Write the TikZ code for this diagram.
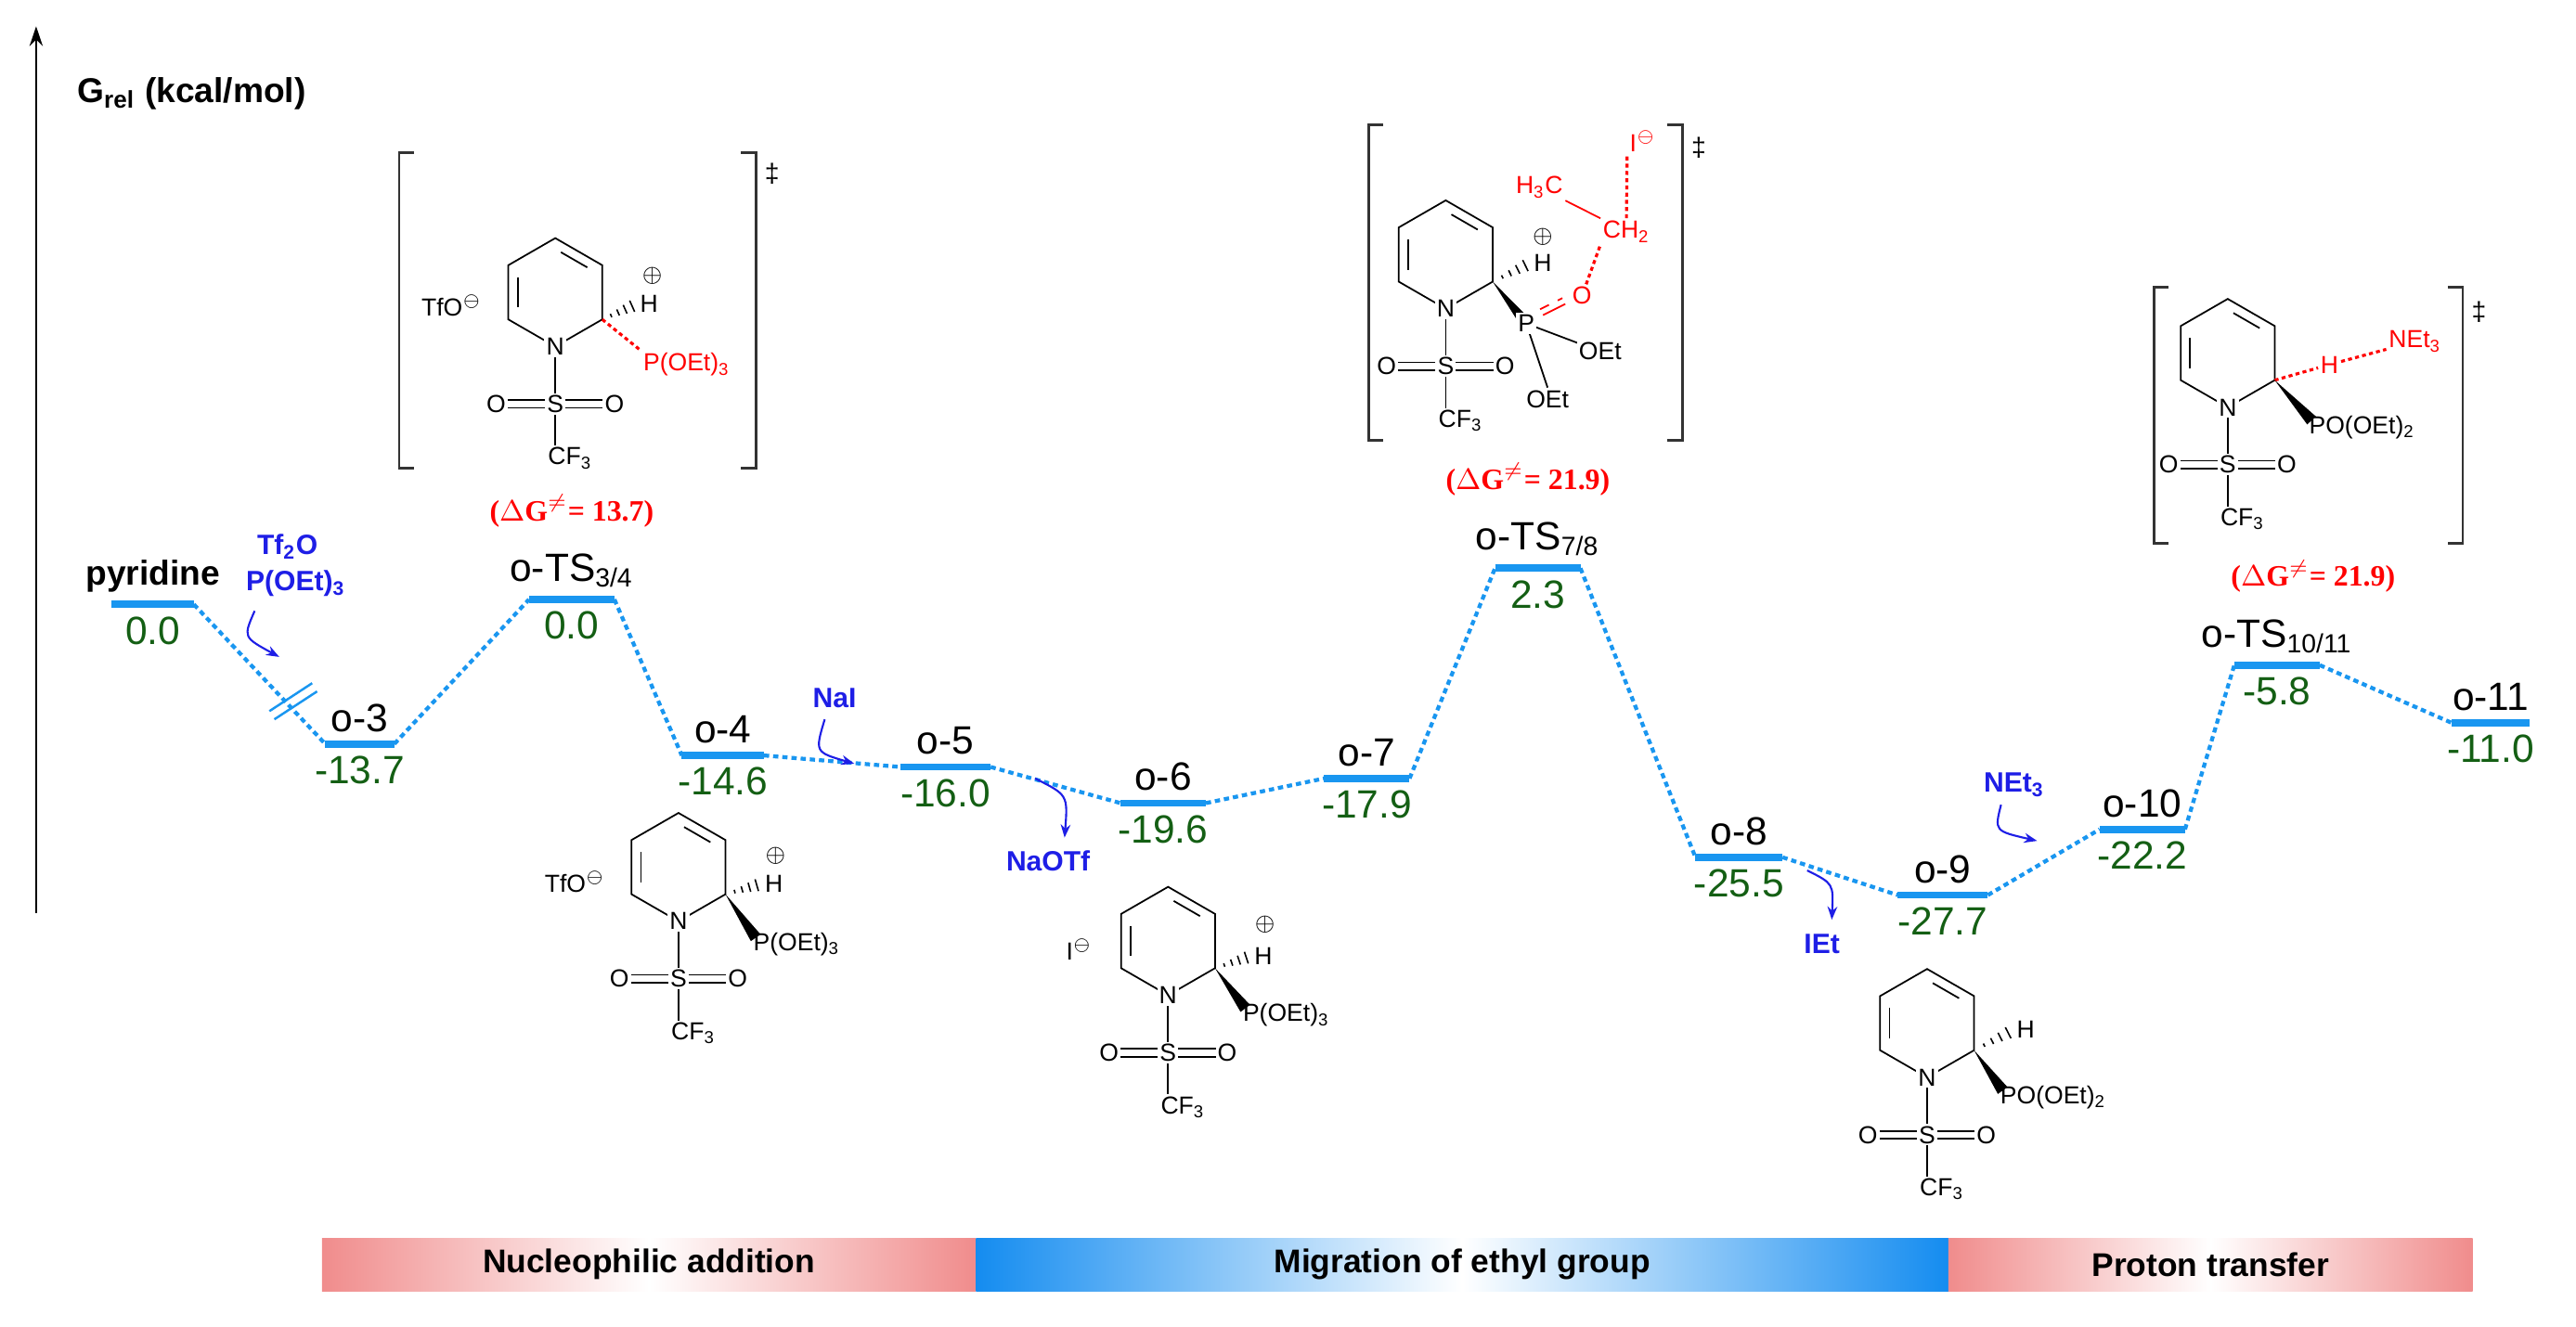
\documentclass[tikz,border=0pt]{standalone}
\usepackage{fontspec}
\setmainfont{Liberation Sans}
\newfontfamily\serifb{Liberation Serif}
\usetikzlibrary{calc,arrows.meta}
\definecolor{lvl}{RGB}{25,150,240}
\definecolor{val}{RGB}{20,95,20}
\definecolor{rgt}{RGB}{30,30,230}
\definecolor{pinkb}{RGB}{240,140,140}
\definecolor{blueb}{RGB}{20,140,240}
\tikzset{
  bar/.style={lvl,line width=2.2pt},
  conn/.style={lvl,line width=1.2pt,dash pattern=on 1.6pt off 1.2pt},
  lab/.style={font=\fontsize{12}{12}\selectfont,anchor=south,inner sep=1pt},
  vallab/.style={val,font=\fontsize{12}{12}\selectfont,anchor=north,inner sep=1pt},
  atom/.style={font=\fontsize{7.5}{8}\selectfont,inner sep=0.6pt,fill=white},
  ratom/.style={atom,text=red},
  bond/.style={line width=0.5pt},
  rdash/.style={red,line width=0.9pt,dash pattern=on 1.2pt off 1pt},
  rgtlab/.style={rgt,font=\bfseries\fontsize{8.5}{9}\selectfont,inner sep=0.5pt},
  rgtarr/.style={rgt,line width=0.6pt,-{Stealth[length=4pt,width=3pt]}},
  dg/.style={red,font=\serifb\bfseries\fontsize{9}{9}\selectfont},
  brk/.style={line width=0.8pt,black!80},
  phase/.style={minimum height=16pt,inner sep=0pt,font=\bfseries\fontsize{10}{10}\selectfont}
}
% pyridine ring with N-SO2CF3; #1 prefix, (#2,#3) position of N
\newcommand\pyrmol[3]{%
  \coordinate (#1N) at (#2,#3);
  \coordinate (#1LL) at ({#2-28.6},{#3-16.5});
  \coordinate (#1UL) at ({#2-28.6},{#3-49.5});
  \coordinate (#1T) at (#2,{#3-66});
  \coordinate (#1UR) at ({#2+28.6},{#3-49.5});
  \coordinate (#1C2) at ({#2+28.6},{#3-16.5});
  \coordinate (#1cen) at (#2,{#3-33});
  \coordinate (#1S) at (#2,{#3+35});
  \coordinate (#1Oa) at ({#2-36},{#3+35});
  \coordinate (#1Ob) at ({#2+36},{#3+35});
  \coordinate (#1CF) at (#2,{#3+68});
  \draw[bond] (#1N) -- (#1LL) -- (#1UL) -- (#1T) -- (#1UR) -- (#1C2) -- (#1N);
  \draw[bond] ($($(#1T)!0.15!(#1UR)$)!0.2!(#1cen)$) -- ($($(#1T)!0.85!(#1UR)$)!0.2!(#1cen)$);
  \draw[bond] ($($(#1UL)!0.15!(#1LL)$)!0.2!(#1cen)$) -- ($($(#1UL)!0.85!(#1LL)$)!0.2!(#1cen)$);
  \draw[bond] (#1N) -- (#1S) -- (#1CF);
  \draw[bond] ([yshift=1.2pt]#1Oa) -- ([yshift=1.2pt]#1Ob);
  \draw[bond] ([yshift=-1.2pt]#1Oa) -- ([yshift=-1.2pt]#1Ob);
  \node[atom] at (#1N) {N};
  \node[atom] at (#1S) {S};
  \node[atom] at (#1Oa) {O};
  \node[atom] at (#1Ob) {O};
  \node[atom,anchor=north west,xshift=-3pt,yshift=4pt] at (#1CF) {CF\textsubscript{3}};
}
\newcommand\hashb[2]{%
  \foreach \t in {0.25,0.45,0.65,0.85}
    \draw[line width=0.45pt] ($(#1)!\t!(#2)!{\t*2.2pt}!90:(#2)$) -- ($(#1)!\t!(#2)!{\t*2.2pt}!-90:(#2)$);
}
\newcommand\wedgeb[2]{%
  \fill (#1) -- ($(#2)!1.8pt!90:(#1)$) -- ($(#2)!1.8pt!-90:(#1)$) -- cycle;
}
\begin{document}
\begin{tikzpicture}[x=0.5pt,y=-0.5pt]
\useasboundingbox (0,0) rectangle (1568,808);
% axis
\draw[line width=0.7pt,-{Stealth[length=6pt,width=4pt]}] (22,556) -- (22,16);
\node[anchor=west,font=\bfseries\fontsize{10.5}{11}\selectfont] (ax) at (40,57) {G\textsubscript{rel} (kcal/mol)};

% levels
\foreach \n/\xa/\xb/\y/\lab/\val in {
  py/68/118/368/{\fontsize{10.5}{11}\selectfont\textbf{pyridine}}/0.0,
  o3/198/240/453/o-3/-13.7,
  ts34/322/374/365/{o-TS\textsubscript{3/4}}/0.0,
  o4/415/465/460/o-4/-14.6,
  o5/548/603/467/o-5/-16.0,
  o6/682/734/489/o-6/-19.6,
  o7/806/858/474/o-7/-17.9,
  ts78/910/962/346/{o-TS\textsubscript{7/8}}/2.3,
  o8/1032/1085/522/o-8/-25.5,
  o9/1155/1210/545/o-9/-27.7,
  o10/1278/1330/505/o-10/-22.2,
  ts1011/1360/1412/405/{o-TS\textsubscript{10/11}}/-5.8,
  o11/1492/1540/440/o-11/-11.0}{
  \coordinate (\n-L) at (\xa,\y);
  \coordinate (\n-R) at (\xb,\y);
  \draw[bar] (\n-L) -- (\n-R);
  \node[lab] (\n-lab) at ({(\xa+\xb)/2},{\y-5}) {\lab};
  \node[vallab] (\n-val) at ({(\xa+\xb)/2},{\y+5}) {\val};
}
\draw[conn] (py-R) -- (o3-L);
\draw[conn] (o3-R) -- (ts34-L);
\draw[conn] (ts34-R) -- (o4-L);
\draw[conn] (o4-R) -- (o5-L);
\draw[conn] (o5-R) -- (o6-L);
\draw[conn] (o6-R) -- (o7-L);
\draw[conn] (o7-R) -- (ts78-L);
\draw[conn] (ts78-R) -- (o8-L);
\draw[conn] (o8-R) -- (o9-L);
\draw[conn] (o9-R) -- (o10-L);
\draw[conn] (o10-R) -- (ts1011-L);
\draw[conn] (ts1011-R) -- (o11-L);
% break mark
\coordinate (bk1a) at (164,433); \coordinate (bk1b) at (190,416);
\coordinate (bk2a) at (167,438); \coordinate (bk2b) at (193,421);
\draw[lvl,line width=0.7pt] (bk1a) -- (bk1b);
\draw[lvl,line width=0.7pt] (bk2a) -- (bk2b);

% reagents
\node[rgtlab] (tf2o) at (175,333) {Tf\textsubscript{2}O};
\node[rgtlab] (poet) at (180,355) {P(OEt)\textsubscript{3}};
\coordinate (a1s) at (155,372); \coordinate (a1e) at (170,400);
\draw[rgtarr] (a1s) .. controls (148,388) .. (a1e);
\node[rgtlab] (nai) at (508,425) {NaI};
\coordinate (a2s) at (502,438); \coordinate (a2e) at (520,465);
\draw[rgtarr] (a2s) .. controls (496,458) .. (a2e);
\node[rgtlab] (naotf) at (638,524) {NaOTf};
\coordinate (a3s) at (630,474); \coordinate (a3e) at (648,510);
\draw[rgtarr] (a3s) .. controls (650,484) .. (a3e);
\node[rgtlab] (iet) at (1109,575) {IEt};
\coordinate (a4s) at (1100,530); \coordinate (a4e) at (1115,560);
\draw[rgtarr] (a4s) .. controls (1116,538) .. (a4e);
\node[rgtlab] (net) at (1226,478) {NEt\textsubscript{3}};
\coordinate (a5s) at (1218,490); \coordinate (a5e) at (1240,512);
\draw[rgtarr] (a5s) .. controls (1214,506) .. (a5e);

% delta G
\node[dg] (dg1) at (348,311) {($\Delta$G$^{\neq}$= 13.7)};
\node[dg] (dg2) at (930,292) {($\Delta$G$^{\neq}$= 21.9)};
\node[dg] (dg3) at (1408,351) {($\Delta$G$^{\neq}$= 21.9)};

% ---- TS3/4
\pyrmol{a}{338}{211}
\draw[brk] (252,93) -- (243,93) -- (243,285) -- (252,285);
\draw[brk] (451,93) -- (460,93) -- (460,285) -- (451,285);
\node[font=\fontsize{8}{8}\selectfont] at (470,106) {‡};
\node[atom] (aTfO) at (275,186) {TfO$^{\ominus}$};
\node[atom,anchor=west] (aH) at (388,185) {H};
\node[font=\fontsize{7}{7}\selectfont,inner sep=0pt] at (397,168) {$\oplus$};
\hashb{aC2}{aH.west}
\node[ratom,anchor=west] (aP) at (390,222) {P(OEt)\textsubscript{3}};
\draw[rdash] (aC2) -- (aP.north west);

% ---- TS7/8
\pyrmol{b}{880}{188}
\draw[brk] (842,76) -- (833,76) -- (833,268) -- (842,268);
\draw[brk] (1015,76) -- (1024,76) -- (1024,268) -- (1015,268);
\node[font=\fontsize{8}{8}\selectfont] at (1034,90) {‡};
\node[atom,anchor=west] (bH) at (932,160) {H};
\node[font=\fontsize{7}{7}\selectfont,inner sep=0pt] at (939,144) {$\oplus$};
\hashb{bC2}{bH.west}
\coordinate (bPc) at (929,197);
\wedgeb{bC2}{bPc}
\coordinate (bOc) at (963,180);
\coordinate (bOE1c) at (974,214);
\coordinate (bOE2c) at (942,236);
\draw[bond] (bPc) -- (bOE1c);
\draw[bond] (bPc) -- (bOE2c);
\draw[red,line width=0.5pt] ($(bPc)!0.3!(bOc)$) -- ($(bOc)!0.3!(bPc)$);
\draw[red,line width=0.5pt,dashed] ($($(bPc)!0.3!(bOc)$)!2pt!90:(bOc)$) -- ($($(bOc)!0.3!(bPc)$)!2pt!-90:(bPc)$);
\node[atom] (bP) at (bPc) {P};
\node[ratom] (bO) at (bOc) {O};
\node[atom] (bOE1) at (bOE1c) {OEt};
\node[atom,anchor=north] (bOE2) at (bOE2c) {OEt};
\node[ratom] (bCH3) at (937,114) {H\textsubscript{3}C};
\node[ratom] (bCH2) at (990,141) {CH\textsubscript{2}};
\node[ratom] (bI) at (1000,86) {I$^{\ominus}$};
\draw[red,line width=0.5pt] (bCH3.south east) -- (bCH2.north west);
\draw[rdash] (bO) -- (bCH2.south west);
\draw[rdash] (bCH2.north) -- (bI.south west);

% ---- TS10/11
\pyrmol{c}{1356}{248}
\draw[brk] (1320,175) -- (1311,175) -- (1311,331) -- (1320,331);
\draw[brk] (1490,175) -- (1499,175) -- (1499,331) -- (1490,331);
\node[font=\fontsize{8}{8}\selectfont] at (1509,190) {‡};
\node[ratom] (cH) at (1418,222) {H};
\node[ratom] (cNEt) at (1470,208) {NEt\textsubscript{3}};
\draw[rdash] (cC2) -- (cH);
\draw[rdash] (cH) -- (cNEt);
\coordinate (cPc) at (1407,256);
\wedgeb{cC2}{cPc}
\node[atom,anchor=west,fill=none] (cP) at (1404,260) {PO(OEt)\textsubscript{2}};

% ---- o-4
\pyrmol{d}{413}{561}
\node[atom] (dTfO) at (350,537) {TfO$^{\ominus}$};
\node[atom,anchor=west] (dH) at (464,538) {H};
\node[font=\fontsize{7}{7}\selectfont,inner sep=0pt] at (472,521) {$\oplus$};
\hashb{dC2}{dH.west}
\coordinate (dPc) at (460,571);
\wedgeb{dC2}{dPc}
\node[atom,anchor=west,fill=none] (dP) at (457,575) {P(OEt)\textsubscript{3}};

% ---- o-6
\pyrmol{e}{711}{606}
\node[atom] (eI) at (657,578) {I$^{\ominus}$};
\node[atom,anchor=west] (eH) at (762,582) {H};
\node[font=\fontsize{7}{7}\selectfont,inner sep=0pt] at (770,563) {$\oplus$};
\hashb{eC2}{eH.west}
\coordinate (ePc) at (758,614);
\wedgeb{eC2}{ePc}
\node[atom,anchor=west,fill=none] (eP) at (755,618) {P(OEt)\textsubscript{3}};

% ---- o-9
\pyrmol{f}{1173}{656}
\node[atom,anchor=west] (fH) at (1226,627) {H};
\hashb{fC2}{fH.west}
\coordinate (fPc) at (1219,664);
\wedgeb{fC2}{fPc}
\node[atom,anchor=west,fill=none] (fP) at (1216,668) {PO(OEt)\textsubscript{2}};

% phases
\node[phase,minimum width=199pt,left color=pinkb,right color=pinkb,middle color=white] (ph1) at (395,770) {Nucleophilic addition};
\node[phase,minimum width=296pt,left color=blueb,right color=blueb,middle color=white] (ph2) at (890,770) {Migration of ethyl group};
\node[phase,minimum width=159.5pt,left color=pinkb,right color=pinkb,middle color=white] (ph3) at (1345.5,770) {Proton transfer};
\end{tikzpicture}
\end{document}
